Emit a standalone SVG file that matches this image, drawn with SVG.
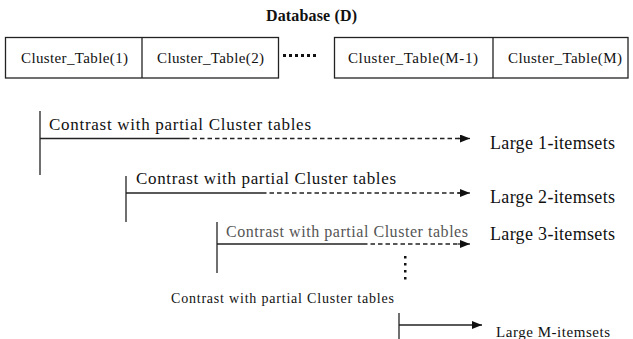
<svg xmlns="http://www.w3.org/2000/svg" width="633" height="339" viewBox="0 0 633 339">
<style>
.t{font-family:"Liberation Serif","Times New Roman",serif;fill:#111}
.box{fill:#fff;stroke:#222;stroke-width:1.3}
.ln{stroke:#222;stroke-width:1.3;fill:none}
.ds{stroke:#222;stroke-width:1.3;fill:none;stroke-dasharray:4.5 3}
</style>
<defs>
<marker id="ah" viewBox="0 0 10 8" refX="10" refY="4" markerWidth="10" markerHeight="8" markerUnits="userSpaceOnUse" orient="auto">
<path d="M0,0 L10,4 L0,8 Z" fill="#111"/>
</marker>
</defs>
<rect width="633" height="339" fill="#fff"/>
<text class="t" x="311.5" y="21" font-size="16" font-weight="bold" text-anchor="middle" textLength="91">Database (D)</text>
<g id="db-left">
<rect class="box" x="5.5" y="37.5" width="273" height="40.5"/>
<line class="ln" x1="142" y1="37.5" x2="142" y2="78"/>
</g>
<g id="ct1"><text class="t" x="21" y="63" font-size="15" textLength="107">Cluster_Table(1)</text></g>
<g id="ct2"><text class="t" x="157" y="63" font-size="15" textLength="107">Cluster_Table(2)</text></g>
<g id="ellipsis">
<rect x="283" y="54" width="3" height="3" fill="#111"/>
<rect x="289" y="54" width="3" height="3" fill="#111"/>
<rect x="295" y="54" width="3" height="3" fill="#111"/>
<rect x="301" y="54" width="3" height="3" fill="#111"/>
<rect x="307" y="54" width="3" height="3" fill="#111"/>
<rect x="313" y="54" width="3" height="3" fill="#111"/>
</g>
<g id="db-right">
<rect class="box" x="334.5" y="37.5" width="293.5" height="40.5"/>
<line class="ln" x1="493" y1="37.5" x2="493" y2="78"/>
</g>
<g id="ctm1"><text class="t" x="348" y="63" font-size="15" textLength="130">Cluster_Table(M-1)</text></g>
<g id="ctm"><text class="t" x="508" y="63" font-size="15" textLength="114">Cluster_Table(M)</text></g>
<g id="connectors">
<line class="ln" x1="40" y1="111" x2="40" y2="175"/>
<line class="ln" x1="40" y1="138.5" x2="185" y2="138.5"/>
<line class="ds" x1="185" y1="138.5" x2="460" y2="138.5"/>
<line class="ln" x1="458" y1="138.5" x2="470" y2="138.5" marker-end="url(#ah)"/>
<line class="ln" x1="126" y1="176" x2="126" y2="222"/>
<line class="ln" x1="126" y1="193" x2="262" y2="193"/>
<line class="ds" x1="262" y1="193" x2="460" y2="193"/>
<line class="ln" x1="458" y1="193" x2="470" y2="193" marker-end="url(#ah)"/>
<line class="ln" x1="217" y1="222" x2="217" y2="273"/>
<line class="ln" x1="217" y1="244" x2="363" y2="244"/>
<line class="ds" x1="363" y1="244" x2="460" y2="244"/>
<line class="ln" x1="458" y1="244" x2="470" y2="244" marker-end="url(#ah)"/>
<line class="ln" x1="399" y1="313" x2="399" y2="339"/>
<line class="ln" x1="399" y1="325" x2="482" y2="325" marker-end="url(#ah)"/>
</g>
<g id="vdots" fill="#111">
<rect x="404" y="256" width="2.5" height="2.5"/>
<rect x="404" y="263" width="2.5" height="2.5"/>
<rect x="404" y="270" width="2.5" height="2.5"/>
<rect x="404" y="277" width="2.5" height="2.5"/>
</g>
<g id="step1">
<text class="t" x="49" y="130" font-size="17" textLength="262">Contrast with partial Cluster tables</text>
<text class="t" x="490" y="149" font-size="18" textLength="125">Large 1-itemsets</text>
</g>
<g id="step2">
<text class="t" x="136" y="184" font-size="17" textLength="260">Contrast with partial Cluster tables</text>
<text class="t" x="490" y="203" font-size="18" textLength="125">Large 2-itemsets</text>
</g>
<g id="step3">
<text class="t" x="226" y="237" font-size="16" textLength="242" style="fill:#555">Contrast with partial Cluster tables</text>
<text class="t" x="490" y="240" font-size="18" textLength="125">Large 3-itemsets</text>
</g>
<g id="stepM">
<text class="t" x="171" y="303" font-size="14" textLength="223">Contrast with partial Cluster tables</text>
<text class="t" x="496" y="337" font-size="15" textLength="114">Large M-itemsets</text>
</g>
</svg>
